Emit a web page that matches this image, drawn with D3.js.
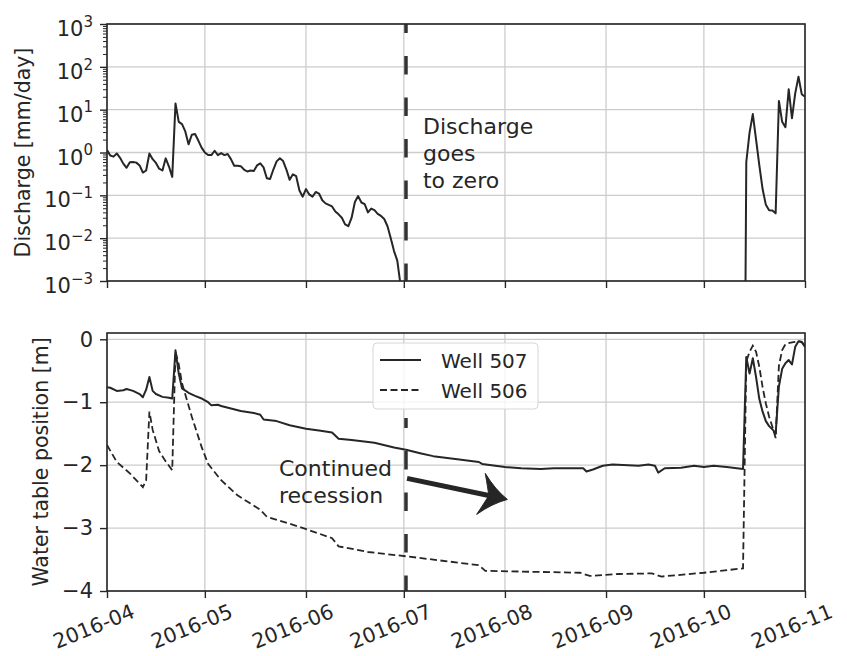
<!DOCTYPE html>
<html>
<head>
<meta charset="utf-8">
<script src="https://cdn.jsdelivr.net/npm/d3@7"></script>
<style>
  body { margin: 0; background: #fff; }
  text { font-family: "DejaVu Sans", sans-serif; fill: #262626; }
</style>
</head>
<body>
<div id="chart"></div>
<script>
// month ticks shared by both panels
const monthTicks = ["2016-04-01", "2016-05-01", "2016-06-01", "2016-07-01",
                    "2016-08-01", "2016-09-01", "2016-10-01", "2016-11-01"];
const dischargeTicks = [1e-3, 1e-2, 1e-1, 1e0, 1e1, 1e2, 1e3];
const wellTicks = [0, -1, -2, -3, -4];

// daily discharge [mm/day], spring recession
const dischargeSpringStart = "2016-04-01";
const dischargeSpring = [
  1.15, 0.85, 0.8, 0.95, 0.75, 0.55, 0.44, 0.59, 0.6, 0.58,
  0.5, 0.34, 0.38, 0.95, 0.7, 0.57, 0.42, 0.38, 0.73, 0.47,
  0.27, 14, 5.2, 4.6, 3.1, 1.55, 2.6, 2.7, 1.9, 1.3,
  1.0, 0.87, 0.87, 1.1, 0.87, 0.97, 0.87, 0.92, 0.7, 0.49,
  0.49, 0.48, 0.4, 0.36, 0.38, 0.37, 0.5, 0.56, 0.45, 0.25,
  0.24, 0.4, 0.62, 0.73, 0.63, 0.4, 0.23, 0.31, 0.28, 0.13,
  0.093, 0.14, 0.105, 0.093, 0.12, 0.11, 0.077, 0.065, 0.06, 0.055,
  0.042, 0.036, 0.03, 0.021, 0.019, 0.03, 0.07, 0.096, 0.068, 0.062,
  0.04, 0.049, 0.045, 0.037, 0.033, 0.028, 0.019, 0.01, 0.005, 0.003,
  0.0008
];
// no flow between these dates
const noFlow = ["2016-07-01", "2016-10-13"];
// daily discharge after rewetting
const dischargeFallStart = "2016-10-14";
const dischargeFall = [
  0.6, 2.9, 7.9, 2.0, 0.5, 0.14, 0.06, 0.045, 0.044, 0.038,
  16, 5.2, 3.9, 30, 6.3, 24, 59, 23, 20
];

// water table position [m]
const well507 = [
  ["2016-04-01", -0.76], ["2016-04-02", -0.77], ["2016-04-04", -0.82], ["2016-04-06", -0.81],
  ["2016-04-07", -0.79], ["2016-04-09", -0.82], ["2016-04-11", -0.87], ["2016-04-12", -0.92],
  ["2016-04-13", -0.8], ["2016-04-14", -0.6], ["2016-04-15", -0.82], ["2016-04-16", -0.87],
  ["2016-04-18", -0.915], ["2016-04-20", -0.93], ["2016-04-21", -0.94], ["2016-04-22", -0.175],
  ["2016-04-23", -0.545], ["2016-04-24", -0.78], ["2016-04-26", -0.85], ["2016-04-28", -0.9],
  ["2016-04-30", -0.94], ["2016-05-01", -0.97], ["2016-05-02", -1.0], ["2016-05-03", -1.05],
  ["2016-05-05", -1.04], ["2016-05-06", -1.06], ["2016-05-09", -1.1], ["2016-05-12", -1.14],
  ["2016-05-16", -1.17], ["2016-05-18", -1.2], ["2016-05-19", -1.275], ["2016-05-23", -1.3],
  ["2016-05-27", -1.365], ["2016-06-01", -1.42], ["2016-06-05", -1.45], ["2016-06-09", -1.48],
  ["2016-06-11", -1.58], ["2016-06-15", -1.6], ["2016-06-22", -1.645], ["2016-06-28", -1.72],
  ["2016-07-02", -1.76], ["2016-07-06", -1.81], ["2016-07-10", -1.857], ["2016-07-18", -1.91],
  ["2016-07-24", -1.95], ["2016-07-25", -1.98], ["2016-08-01", -2.03], ["2016-08-06", -2.05],
  ["2016-08-12", -2.06], ["2016-08-16", -2.05], ["2016-08-25", -2.05], ["2016-08-26", -2.1],
  ["2016-08-28", -2.07], ["2016-08-31", -2.01], ["2016-09-03", -1.99], ["2016-09-11", -2.01],
  ["2016-09-14", -1.99], ["2016-09-16", -2.01], ["2016-09-17", -2.12], ["2016-09-19", -2.05],
  ["2016-09-24", -2.04], ["2016-09-28", -2.01], ["2016-10-01", -2.03], ["2016-10-04", -2.01],
  ["2016-10-08", -2.03], ["2016-10-13", -2.06], ["2016-10-14", -0.28], ["2016-10-15", -0.545],
  ["2016-10-16", -0.3], ["2016-10-17", -0.6], ["2016-10-18", -0.95], ["2016-10-19", -1.15],
  ["2016-10-20", -1.3], ["2016-10-21", -1.38], ["2016-10-22", -1.43], ["2016-10-23", -1.5],
  ["2016-10-24", -0.75], ["2016-10-25", -0.47], ["2016-10-26", -0.38], ["2016-10-27", -0.33],
  ["2016-10-28", -0.4], ["2016-10-29", -0.12], ["2016-10-30", -0.03], ["2016-10-31", -0.04],
  ["2016-11-01", -0.12]
];
const well506 = [
  ["2016-04-01", -1.68], ["2016-04-04", -1.95], ["2016-04-08", -2.13], ["2016-04-12", -2.35],
  ["2016-04-13", -2.24], ["2016-04-14", -1.15], ["2016-04-15", -1.44], ["2016-04-17", -1.78],
  ["2016-04-19", -1.94], ["2016-04-21", -2.08], ["2016-04-22", -0.2], ["2016-04-23", -0.4],
  ["2016-04-24", -0.7], ["2016-04-27", -1.23], ["2016-04-30", -1.71], ["2016-05-02", -1.98],
  ["2016-05-06", -2.24], ["2016-05-11", -2.48], ["2016-05-15", -2.61], ["2016-05-18", -2.71],
  ["2016-05-20", -2.82], ["2016-05-30", -2.98], ["2016-06-09", -3.16], ["2016-06-11", -3.29],
  ["2016-06-20", -3.38], ["2016-07-02", -3.45], ["2016-07-24", -3.59], ["2016-07-26", -3.68],
  ["2016-08-24", -3.71], ["2016-08-27", -3.76], ["2016-09-05", -3.73], ["2016-09-15", -3.72],
  ["2016-09-18", -3.77], ["2016-10-01", -3.71], ["2016-10-13", -3.64], ["2016-10-14", -0.35],
  ["2016-10-15", -0.2], ["2016-10-16", -0.1], ["2016-10-17", -0.2], ["2016-10-18", -0.44],
  ["2016-10-19", -0.76], ["2016-10-20", -1.02], ["2016-10-21", -1.23], ["2016-10-22", -1.39],
  ["2016-10-23", -1.57], ["2016-10-24", -0.42], ["2016-10-25", -0.17], ["2016-10-26", -0.08],
  ["2016-10-27", -0.06], ["2016-10-28", -0.05], ["2016-10-29", -0.04], ["2016-10-30", -0.03],
  ["2016-10-31", -0.05], ["2016-11-01", -0.1]
];

// annotation positions (data coordinates)
const zeroDate = "2016-07-01T16:00";
const arrowFrom = ["2016-07-02", -2.21];
const arrowTo = ["2016-08-01T18:00", -2.545];

const parse = d3.isoParse;
const ink = "#262626";
const gridColor = "#cccccc";

const W = 847, H = 656;
const left = 107, right = 805;
const top1 = 24, bottom1 = 281;
const top2 = 333, bottom2 = 591;

const svg = d3.select("#chart").append("svg")
    .attr("width", W).attr("height", H);

const x = d3.scaleTime()
    .domain([parse(monthTicks[0]), parse(monthTicks[monthTicks.length - 1])])
    .range([left, right]);
const yQ = d3.scaleLog().domain([1e-3, 1e3]).range([bottom1, top1]);
const yW = d3.scaleLinear().domain([-4, 0.1]).range([bottom2, top2]);

const defs = svg.append("defs");
defs.append("clipPath").attr("id", "clip1").append("rect")
    .attr("x", left).attr("y", top1).attr("width", right - left).attr("height", bottom1 - top1);
defs.append("clipPath").attr("id", "clip2").append("rect")
    .attr("x", left).attr("y", top2).attr("width", right - left).attr("height", bottom2 - top2);

function styleAxis(g) {
    g.select(".domain").remove();
    g.selectAll(".tick line").attr("stroke", ink).attr("stroke-width", 1.4);
    g.selectAll(".tick text").attr("fill", ink).style("font-size", "21px");
}

// ---------- grids ----------
function grid(yScale, ticks, y0, y1) {
    const g = svg.append("g");
    g.selectAll(".vg").data(monthTicks).enter().append("line")
        .attr("x1", d => x(parse(d))).attr("x2", d => x(parse(d)))
        .attr("y1", y0).attr("y2", y1)
        .attr("stroke", gridColor).attr("stroke-width", 1.3);
    g.selectAll(".hg").data(ticks).enter().append("line")
        .attr("x1", left).attr("x2", right)
        .attr("y1", d => yScale(d)).attr("y2", d => yScale(d))
        .attr("stroke", gridColor).attr("stroke-width", 1.3);
}
grid(yQ, dischargeTicks, top1, bottom1);
grid(yW, wellTicks, top2, bottom2);

// ---------- top panel: discharge ----------
let dischargePts = [];
const springStart = parse(dischargeSpringStart);
dischargeSpring.forEach((v, i) => dischargePts.push([d3.timeDay.offset(springStart, i), v]));
dischargePts.push([parse(noFlow[0]), 0]);
dischargePts.push([parse(noFlow[1]), 0]);
const fallStart = parse(dischargeFallStart);
dischargeFall.forEach((v, i) => dischargePts.push([d3.timeDay.offset(fallStart, i), v]));

// zero flow cannot be shown on a log axis, push it far below the frame
const qLine = d3.line()
    .x(d => x(d[0]))
    .y(d => yQ(Math.max(d[1], 1e-12)));

svg.append("path")
    .attr("clip-path", "url(#clip1)")
    .attr("d", qLine(dischargePts))
    .attr("fill", "none").attr("stroke", ink).attr("stroke-width", 2)
    .attr("stroke-linejoin", "round");

// vertical dashed marker
svg.append("line")
    .attr("x1", x(parse(zeroDate))).attr("x2", x(parse(zeroDate)))
    .attr("y1", yQ(1e3)).attr("y2", yQ(1e-3))
    .attr("stroke", "#333").attr("stroke-width", 3.5)
    .attr("stroke-dasharray", "18.5,23").attr("stroke-dashoffset", 9.5);

const note1 = svg.append("text")
    .attr("x", x(parse(zeroDate)) + 17).attr("y", 134)
    .style("font-size", "22px");
["Discharge", "goes", "to zero"].forEach((t, i) => {
    note1.append("tspan").attr("x", x(parse(zeroDate)) + 17).attr("dy", i ? 27 : 0).text(t);
});

// axes
const yAxisQ = svg.append("g").attr("transform", `translate(${left},0)`)
    .call(d3.axisLeft(yQ).tickValues(dischargeTicks).tickSize(7).tickPadding(7).tickFormat(""));
styleAxis(yAxisQ);
yAxisQ.selectAll(".tick text").each(function(d) {
    const t = d3.select(this).attr("dy", "0.55em");
    t.append("tspan").text("10");
    t.append("tspan").attr("dy", "-0.62em").style("font-size", "15px")
        .text(String(Math.round(Math.log10(d))).replace("-", "\u2212"));
});

const minorQ = [];
dischargeTicks.slice(0, -1).forEach(p => { for (let k = 2; k <= 9; k++) minorQ.push(p * k); });
const yMinorQ = svg.append("g").attr("transform", `translate(${left},0)`)
    .call(d3.axisLeft(yQ).tickValues(minorQ).tickSize(4).tickFormat(""));
styleAxis(yMinorQ);
yMinorQ.selectAll(".tick line").attr("stroke-width", 1);

const xAxisTop = svg.append("g").attr("transform", `translate(0,${bottom1})`)
    .call(d3.axisBottom(x).tickValues(monthTicks.map(parse)).tickSize(7).tickFormat(""));
styleAxis(xAxisTop);

svg.append("rect").attr("x", left).attr("y", top1)
    .attr("width", right - left).attr("height", bottom1 - top1)
    .attr("fill", "none").attr("stroke", ink).attr("stroke-width", 1.6);

svg.append("text")
    .attr("transform", `translate(30,${(top1 + bottom1) / 2}) rotate(-90)`)
    .attr("text-anchor", "middle").style("font-size", "20.5px")
    .text("Discharge [mm/day]");

// ---------- bottom panel: wells ----------
const wLine = d3.line().x(d => x(parse(d[0]))).y(d => yW(d[1]));

svg.append("path")
    .attr("clip-path", "url(#clip2)")
    .attr("d", wLine(well507))
    .attr("fill", "none").attr("stroke", ink).attr("stroke-width", 2)
    .attr("stroke-linejoin", "round");
svg.append("path")
    .attr("clip-path", "url(#clip2)")
    .attr("d", wLine(well506))
    .attr("fill", "none").attr("stroke", ink).attr("stroke-width", 1.8)
    .attr("stroke-dasharray", "7,3.5");

svg.append("line")
    .attr("x1", x(parse(zeroDate))).attr("x2", x(parse(zeroDate)))
    .attr("y1", yW(-1.25)).attr("y2", yW(-4))
    .attr("stroke", "#333").attr("stroke-width", 3.5)
    .attr("stroke-dasharray", "18.5,23").attr("stroke-dashoffset", 8.5);

const note2 = svg.append("text").attr("y", 476).style("font-size", "22px");
["Continued", "recession"].forEach((t, i) => {
    note2.append("tspan").attr("x", 279).attr("dy", i ? 26.5 : 0).text(t);
});

// arrow
const ax0 = x(parse(arrowFrom[0])), ay0 = yW(arrowFrom[1]);
const ax1 = x(parse(arrowTo[0])), ay1 = yW(arrowTo[1]);
const len = Math.hypot(ax1 - ax0, ay1 - ay0);
const ux = (ax1 - ax0) / len, uy = (ay1 - ay0) / len;
const px = -uy, py = ux;
function pt(a, b) { return [ax1 + ux * a + px * b, ay1 + uy * a + py * b]; }
const notch = pt(-19, 0);
svg.append("line")
    .attr("x1", ax0).attr("y1", ay0).attr("x2", notch[0]).attr("y2", notch[1])
    .attr("stroke", ink).attr("stroke-width", 5);
const head = d3.path();
const tip = pt(0, 0), w1 = pt(-27, -21), w2 = pt(-27, 21);
const c1 = pt(-14, -7), c2 = pt(-21, -6), c3 = pt(-21, 6), c4 = pt(-14, 7);
head.moveTo(...tip);
head.quadraticCurveTo(...c1, ...w1);
head.quadraticCurveTo(...c2, ...notch);
head.quadraticCurveTo(...c3, ...w2);
head.quadraticCurveTo(...c4, ...tip);
head.closePath();
svg.append("path").attr("d", head.toString()).attr("fill", ink).attr("stroke", ink)
    .attr("stroke-width", 1).attr("stroke-linejoin", "round");

// axes
const yAxisW = svg.append("g").attr("transform", `translate(${left},0)`)
    .call(d3.axisLeft(yW).tickValues(wellTicks).tickSize(7).tickPadding(7)
        .tickFormat(d => String(d).replace("-", "\u2212")));
styleAxis(yAxisW);

const xAxisBottom = svg.append("g").attr("transform", `translate(0,${bottom2})`)
    .call(d3.axisBottom(x).tickValues(monthTicks.map(parse)).tickSize(7)
        .tickFormat(d3.timeFormat("%Y-%m")));
styleAxis(xAxisBottom);
// labels roughly centred under each tick, tilted
xAxisBottom.selectAll(".tick text")
    .attr("text-anchor", "middle").attr("dy", null).attr("y", null)
    .style("font-size", "20.5px")
    .attr("transform", "translate(-11,42) rotate(-22)");

svg.append("rect").attr("x", left).attr("y", top2)
    .attr("width", right - left).attr("height", bottom2 - top2)
    .attr("fill", "none").attr("stroke", ink).attr("stroke-width", 1.6);

svg.append("text")
    .attr("transform", `translate(48,${(top2 + bottom2) / 2}) rotate(-90)`)
    .attr("text-anchor", "middle").style("font-size", "20.5px")
    .text("Water table position [m]");

// legend
const legend = svg.append("g").attr("transform", "translate(373,343)");
legend.append("rect").attr("width", 165).attr("height", 66).attr("rx", 4)
    .attr("fill", "#fff").attr("fill-opacity", 0.8)
    .attr("stroke", "#d6d6d6").attr("stroke-width", 1);
[["Well 507", null, 2], ["Well 506", "7,3.5", 1.8]].forEach((e, i) => {
    legend.append("line").attr("x1", 7).attr("x2", 48)
        .attr("y1", 17 + i * 30).attr("y2", 17 + i * 30)
        .attr("stroke", ink).attr("stroke-width", e[2])
        .attr("stroke-dasharray", e[1]);
    legend.append("text").attr("x", 68).attr("y", 25 + i * 30)
        .style("font-size", "20px").text(e[0]);
});
</script>
</body>
</html>
